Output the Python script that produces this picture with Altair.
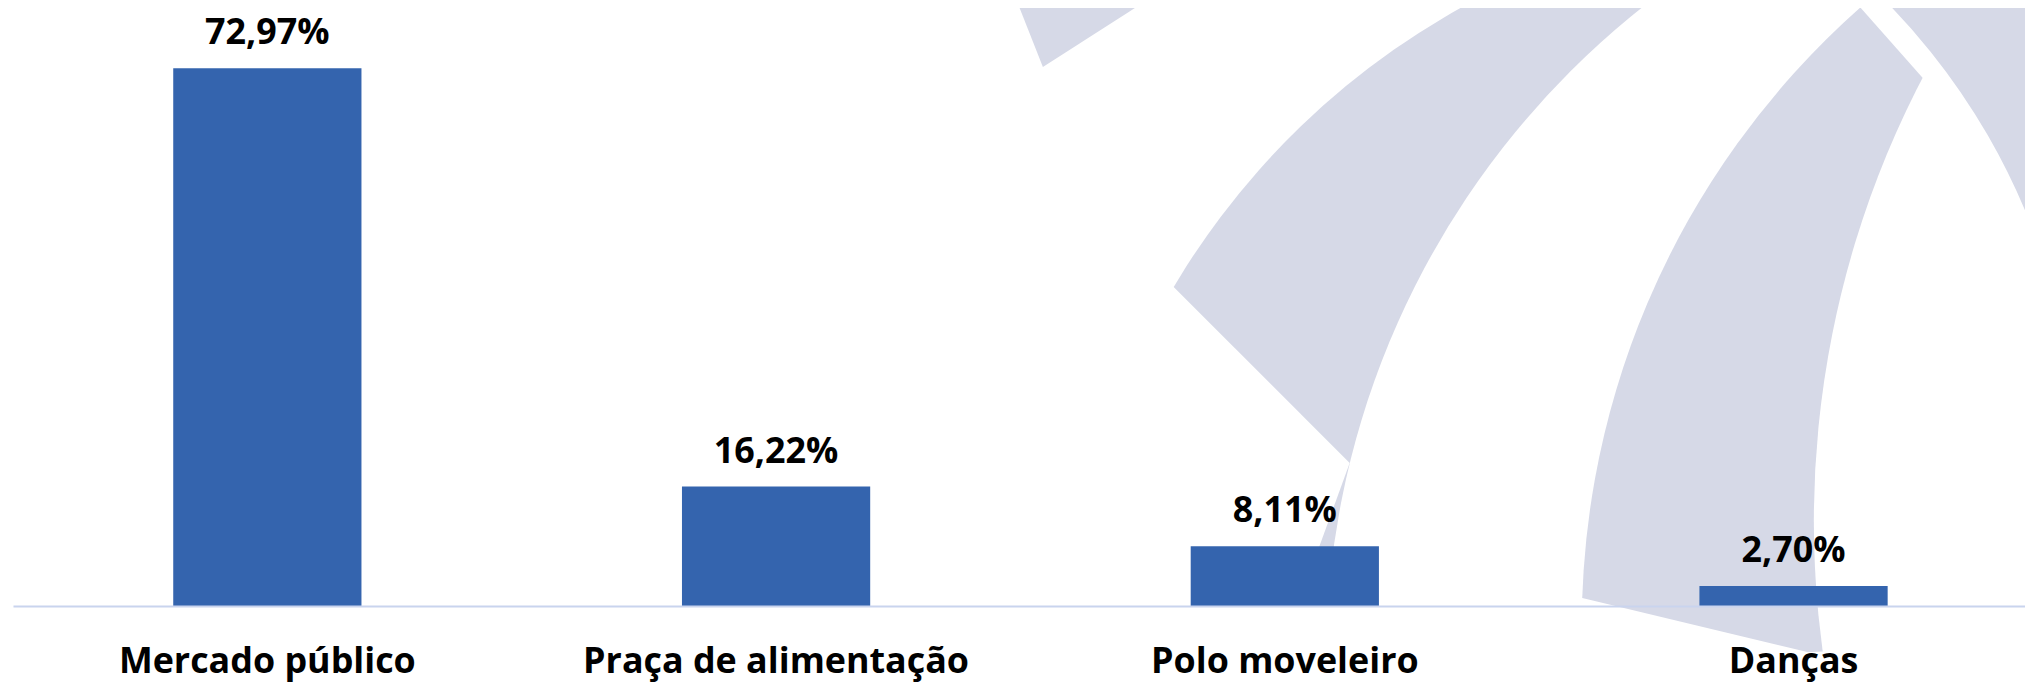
import math
import altair as alt
import pandas as pd

# ---- data ----
categorias = ["Mercado público", "Praça de alimentação", "Polo moveleiro", "Danças"]
valores = [72.97, 16.22, 8.11, 2.70]
rotulos = ["72,97%", "16,22%", "8,11%", "2,70%"]

df = pd.DataFrame({"categoria": categorias, "valor": valores, "rotulo": rotulos})

# ---- style ----
FONT = "Open Sans"
BAR = "#3464ae"
WM = "#d6d9e7"        # light watermark colour
AXIS = "#c9d4ee"
W, H = 2020, 599
X0, Y0 = 13, 8        # page position of the plot origin

dummy = pd.DataFrame({"k": [0]})


def arc(cx, cy, r, t1, t2, color, r2=0):
    """decorative watermark piece (background logo), positioned in pixels"""
    enc = dict(
        x=alt.value(cx - X0),
        y=alt.value(cy - Y0),
        radius=alt.value(r),
        theta=alt.value(math.radians(t1)),
        theta2=alt.value(math.radians(t2)),
    )
    if r2:
        enc["radius2"] = alt.value(r2)
    return alt.Chart(dummy).mark_arc(color=color, strokeWidth=0).encode(**enc)


watermark = [
    arc(1047, 66, 170, 338.5, 417.3, WM),
    arc(1842, 681, 772, 280, 352, WM),
    arc(2169, 663, 838, 0, 360, "white"),
    arc(1355, 463.5, 360, 200, 315, "white"),
    arc(2417, 627, 829, 267.5, 318.5, WM),
    arc(2784, 522, 963, 0, 360, "white"),
    arc(1826, 656, 320, 180, 283.5, "white"),
    arc(1418, 468, 1300, 25, 95, WM, r2=667),
]

x_enc = alt.X(
    "categoria:N",
    sort=categorias,
    scale=alt.Scale(range=[0, 2043], paddingInner=0.63, paddingOuter=0.315),
    axis=alt.Axis(
        title=None,
        labelAngle=0,
        labelFont=FONT,
        labelFontSize=36,
        labelFontWeight="bold",
        labelColor="black",
        labelPadding=67,
        labelBaseline="alphabetic",
        labelLimit=0,
        ticks=False,
        tickSize=0,
        domainColor=AXIS,
        domainWidth=2,
        grid=False,
        zindex=1,
    ),
)
y_enc = alt.Y("valor:Q", scale=alt.Scale(domain=[0, 80.95], nice=False), axis=None)

base = alt.Chart(df)
bars = base.mark_bar(color=BAR).encode(x=x_enc, y=y_enc)
texts = base.mark_text(
    font=FONT, fontSize=36, fontWeight="bold", color="black",
    baseline="alphabetic", dy=-24,
).encode(x=alt.X("categoria:N", sort=categorias), y="valor:Q", text="rotulo:N")

chart = (
    alt.layer(*watermark, bars, texts)
    .properties(
        width=W,
        height=H,
        autosize=alt.AutoSizeParams(type="none"),
        padding={"left": 5, "top": 0, "right": 0, "bottom": 78},
        background="white",
    )
    .configure_view(stroke=None)
)

chart.save("out.html", embed_options={"renderer": "svg", "actions": False})
